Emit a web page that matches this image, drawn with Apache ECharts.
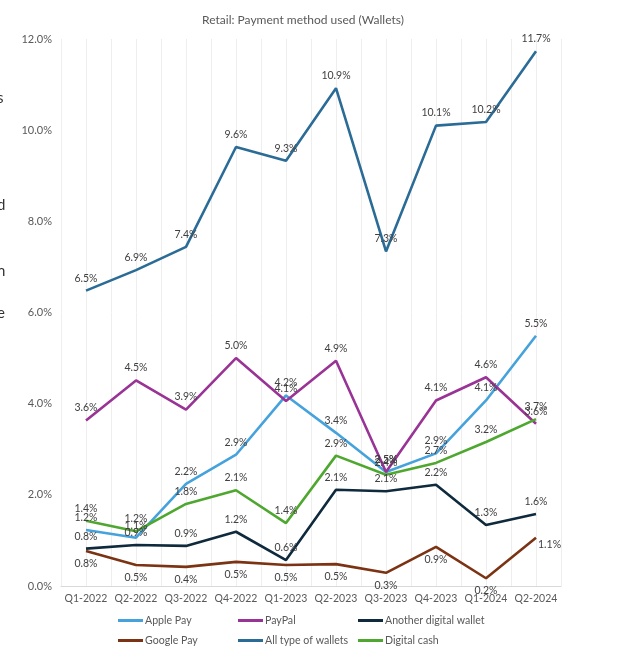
<!DOCTYPE html>
<html>
<head>
<meta charset="utf-8">
<script src="https://cdn.jsdelivr.net/npm/echarts@6/dist/echarts.min.js"></script>
<style>
html,body{margin:0;padding:0;background:#fff;}
#chart{width:640px;height:655px;}
</style>
</head>
<body>
<div id="chart"></div>
<script>
var categories = ['Q1-2022','Q2-2022','Q3-2022','Q4-2022','Q1-2023','Q2-2023','Q3-2023','Q4-2023','Q1-2024','Q2-2024'];
var applePay = [1.23, 1.06, 2.24, 2.88, 4.18, 3.36, 2.5, 2.91, 4.07, 5.49];
var payPal = [3.63, 4.51, 3.87, 5.0, 4.06, 4.94, 2.5, 4.07, 4.58, 3.56];
var anotherWallet = [0.82, 0.9, 0.88, 1.19, 0.57, 2.11, 2.08, 2.22, 1.34, 1.58];
var googlePay = [0.77, 0.46, 0.42, 0.53, 0.46, 0.48, 0.29, 0.86, 0.17, 1.06];
var allWallets = [6.48, 6.93, 7.44, 9.63, 9.33, 10.92, 7.34, 10.1, 10.18, 11.73];
var digitalCash = [1.43, 1.2, 1.8, 2.1, 1.38, 2.86, 2.44, 2.7, 3.16, 3.66];
var yTicks = [0, 2, 4, 6, 8, 10, 12];
var titleText = 'Retail: Payment method used (Wallets)';
var edgeFragments = ['s', ',', 'd', '.', 'n', 'e'];
var edgeFragmentY = [100, 137, 207, 247, 273, 315];

var FONT = 'Lato, "Noto Sans", sans-serif';
var chart = echarts.init(document.getElementById('chart'), null, {renderer: 'canvas'});

function pct(v) { return (typeof v === 'object' ? v.value : v).toFixed(1) + '%'; }

function mkSeries(name, data, color, pos, overrides) {
  var d = data.map(function (v, i) {
    if (overrides && overrides[i]) {
      return { value: v, label: overrides[i] };
    }
    return v;
  });
  return {
    name: name,
    type: 'line',
    data: d,
    symbol: 'circle',
    symbolSize: 0,
    showSymbol: true,
    showAllSymbol: true,
    lineStyle: { color: color, width: 2.6 },
    itemStyle: { color: color },
    label: {
      show: true,
      position: pos,
      distance: 7,
      color: '#404040',
      fontSize: 10.5,
      fontFamily: FONT,
      formatter: function (p) { return pct(p.value); }
    },
    labelLayout: { hideOverlap: false },
    emphasis: { disabled: true },
    animation: false,
    z: 3
  };
}

var gOverrides = {};
gOverrides[9] = { position: [2, 1], align: 'left', verticalAlign: 'top' };

var graphics = edgeFragments.map(function (t, i) {
  return {
    type: 'text',
    left: -3,
    top: edgeFragmentY[i] - 9,
    style: { text: t, fill: '#333', font: '15px ' + FONT }
  };
});

function legendCol(left, items) {
  return {
    orient: 'vertical', left: left, top: 615, itemGap: 9, padding: 0,
    itemWidth: 25, itemHeight: 3, icon: 'rect',
    textStyle: { color: '#595959', fontSize: 10.6, fontFamily: FONT, padding: [0, 0, 0, -3] },
    data: items, selectedMode: false
  };
}

var option = {
  backgroundColor: '#fff',
  animation: false,
  title: {
    text: titleText,
    left: 298,
    top: 9,
    textAlign: 'center',
    textStyle: { color: '#595959', fontSize: 12, fontWeight: 'normal', fontFamily: FONT }
  },
  graphic: graphics,
  grid: { left: 61, right: 79, top: 39, bottom: 69, containLabel: false },
  xAxis: [
    {
      type: 'category',
      data: categories,
      boundaryGap: true,
      axisLine: { show: true, lineStyle: { color: '#d9d9d9', width: 1 } },
      axisTick: { show: false },
      axisLabel: { color: '#595959', fontSize: 10.5, fontFamily: FONT, margin: 7, interval: 0 },
      splitLine: { show: false }
    },
    {
      type: 'value',
      min: 0, max: 20, interval: 1,
      position: 'bottom',
      axisLine: { show: false },
      axisTick: { show: false },
      axisLabel: { show: false },
      splitLine: { show: true, lineStyle: { color: '#eeeeee', width: 1 } }
    }
  ],
  yAxis: {
    type: 'value',
    min: yTicks[0],
    max: yTicks[yTicks.length - 1],
    interval: 2,
    axisLine: { show: false },
    axisTick: { show: false },
    splitLine: { show: false },
    axisLabel: {
      color: '#595959', fontSize: 11, fontFamily: FONT, margin: 9,
      formatter: function (v) { return v.toFixed(1) + '%'; }
    }
  },
  legend: [
    legendCol(118, ['Apple Pay', 'Google Pay']),
    legendCol(238, ['PayPal', 'All type of wallets']),
    legendCol(358, ['Another digital wallet', 'Digital cash'])
  ],
  series: [
    mkSeries('Apple Pay', applePay, '#45a2dc', 'top'),
    mkSeries('PayPal', payPal, '#993395', 'top'),
    mkSeries('Another digital wallet', anotherWallet, '#0f2a3d', 'top'),
    mkSeries('Google Pay', googlePay, '#7c3313', 'bottom', gOverrides),
    mkSeries('All type of wallets', allWallets, '#2b6c97', 'top'),
    mkSeries('Digital cash', digitalCash, '#4ea72e', 'top')
  ]
};
chart.setOption(option);
</script>
</body>
</html>
